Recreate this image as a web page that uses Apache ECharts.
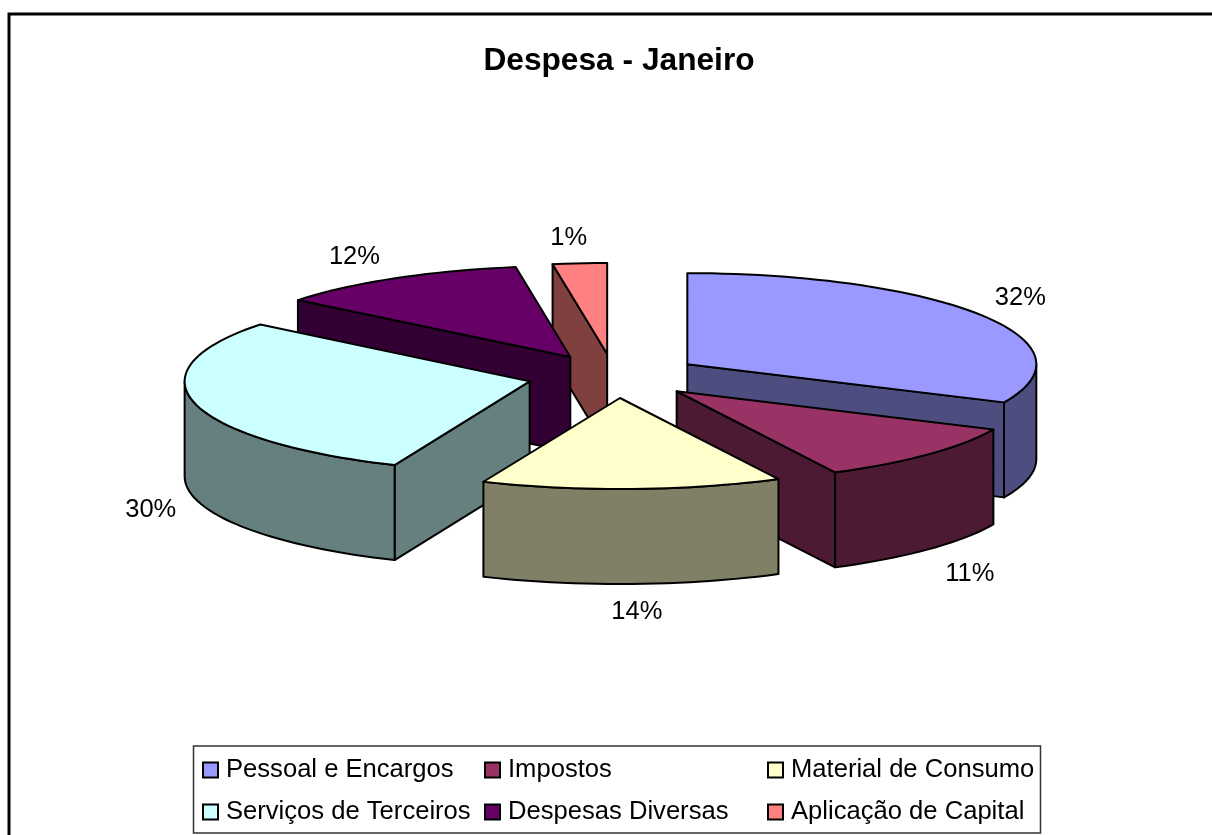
<!DOCTYPE html>
<html>
<head>
<meta charset="UTF-8">
<title>Despesa - Janeiro</title>
<script src="https://cdn.jsdelivr.net/npm/echarts@6/dist/echarts.min.js"></script>
<style>
html, body { margin: 0; padding: 0; background: #fff; }
#container { width: 1212px; height: 835px; }
</style>
</head>
<body>
<div id="container"></div>
<script type="text/javascript">
// dados
var categories = ['Pessoal e Encargos', 'Impostos', 'Material de Consumo', 'Serviços de Terceiros', 'Despesas Diversas', 'Aplicação de Capital'];
// fatias como aparecem desenhadas (o rotulo 1% ocupa mais que 1% na figura)
var shares = [31.9, 10.6, 13.9, 29.35, 11.75, 2.5];
var percentLabels = ['32%', '11%', '14%', '30%', '12%', '1%'];
var colors = ['#9999FF', '#993366', '#FFFFCC', '#CCFFFF', '#660066', '#FF8080'];
var wallColors = ['#4D4D80', '#4D1A33', '#808066', '#668080', '#330033', '#804040'];
var legendColumns = [[0, 3], [1, 4], [2, 5]];

// geometria da pizza 3D
var pie = { cx: 614, cy: 376, rx: 349, ry: 91, depth: 95, explodeX: 87, explodeY: 22, labelX: 400, labelY: 122 };
// ajustes finos por fatia: o Excel deforma um pouco a perspectiva
var sliceShiftX = [0, 0, 3, 0, 0, 0];
var sliceRx = [349, 349, 349, 345, 349, 349];
var labelShift = [[-4, 0], [5, 3], [3, -3], [9, 4], [-15, 5], [-7, 6]];
var font = 'Liberation Sans, Arial, sans-serif';

var total = shares.reduce(function (a, b) { return a + b; }, 0);
var slices = [];
var acc = 0;
shares.forEach(function (v, i) {
	var start = acc / total * 360;
	acc += v;
	var end = acc / total * 360;
	var mid = (start + end) / 2 * Math.PI / 180;
	slices.push({
		start: start,
		end: end,
		mid: mid,
		rx: sliceRx[i],
		ax: pie.cx + pie.explodeX * Math.sin(mid) + sliceShiftX[i],
		ay: pie.cy - pie.explodeY * Math.cos(mid)
	});
});

function rimPoint(s, deg, down) {
	var r = deg * Math.PI / 180;
	return [s.ax + s.rx * Math.sin(r), s.ay - pie.ry * Math.cos(r) + (down ? pie.depth : 0)];
}

function arc(s, from, to, down) {
	var pts = [];
	var n = Math.max(2, Math.ceil(Math.abs(to - from) / 2));
	for (var i = 0; i <= n; i++) {
		pts.push(rimPoint(s, from + (to - from) * i / n, down));
	}
	return pts;
}

function face(points, fill, z2) {
	return {
		type: 'polygon',
		z2: z2,
		shape: { points: points },
		style: { fill: fill, stroke: '#000', lineWidth: 2, lineJoin: 'round' }
	};
}

function cutWall(s, deg, fill, z2) {
	var rimTop = rimPoint(s, deg, false);
	var rimBottom = rimPoint(s, deg, true);
	return face([[s.ax, s.ay], rimTop, rimBottom, [s.ax, s.ay + pie.depth]], fill, z2);
}

function sliceRenderer(idx) {
	return function () {
		var s = slices[idx];
		var children = [];
		// paredes dos cortes, so as que ficam de frente
		if (s.start > 180 && s.start < 360) children.push(cutWall(s, s.start, wallColors[idx], 1));
		if (s.end > 0 && s.end < 180) children.push(cutWall(s, s.end, wallColors[idx], 1));
		// borda externa visivel entre 90 e 270 graus
		var from = Math.max(s.start, 90);
		var to = Math.min(s.end, 270);
		if (to > from) {
			children.push(face(arc(s, from, to, false).concat(arc(s, to, from, true)), wallColors[idx], 2));
		}
		// tampo
		children.push(face([[s.ax, s.ay]].concat(arc(s, s.start, s.end, false)), colors[idx], 3));
		// rotulo
		var sin = Math.sin(s.mid), cos = Math.cos(s.mid);
		children.push({
			type: 'text',
			z2: 4,
			style: {
				x: s.ax + pie.labelX * sin + labelShift[idx][0],
				y: s.ay - pie.labelY * cos + (cos < 0 ? pie.depth : 0) + labelShift[idx][1],
				text: percentLabels[idx],
				fill: '#000',
				font: '25.5px ' + font,
				align: 'center',
				verticalAlign: 'middle'
			}
		});
		return { type: 'group', children: children };
	};
}

// desenha de tras para a frente
var drawOrder = slices.map(function (s, i) { return i; }).sort(function (a, b) { return slices[a].ay - slices[b].ay; });

var series = categories.map(function (name, i) {
	return {
		type: 'custom',
		name: name,
		coordinateSystem: 'none',
		z: 2 + drawOrder.indexOf(i),
		silent: true,
		itemStyle: { color: colors[i] },
		renderItem: sliceRenderer(i),
		data: [[shares[i]]]
	};
});

var legendLeft = [202, 484, 767];
var legends = legendColumns.map(function (col, c) {
	return {
		orient: 'vertical',
		left: legendLeft[c],
		top: 757,
		padding: 0,
		itemWidth: 15,
		itemHeight: 15,
		itemGap: 16,
		selectedMode: false,
		icon: 'rect',
		data: col.map(function (i) { return categories[i]; }),
		itemStyle: { borderColor: '#000', borderWidth: 2 },
		textStyle: { fontFamily: font, fontSize: 25.6, color: '#000', padding: [0, 0, 0, 3] }
	};
});

var myChart = echarts.init(document.getElementById('container'), null, { renderer: 'canvas' });
var option = {
	animation: false,
	backgroundColor: '#fff',
	title: {
		text: 'Despesa - Janeiro',
		left: 619,
		top: 45,
		textAlign: 'center',
		padding: 0,
		textStyle: { fontFamily: font, fontSize: 31.7, fontWeight: 'bold', color: '#000' }
	},
	legend: legends,
	graphic: [
		{
			type: 'rect',
			silent: true,
			z: 0,
			shape: { x: 9, y: 14, width: 1300, height: 900 },
			style: { fill: 'none', stroke: '#000', lineWidth: 3 }
		},
		{
			type: 'rect',
			silent: true,
			z: 0,
			shape: { x: 193.5, y: 746, width: 847, height: 87 },
			style: { fill: '#fff', stroke: '#333', lineWidth: 1.5 }
		}
	],
	series: series
};
myChart.setOption(option, true);
</script>
</body>
</html>
